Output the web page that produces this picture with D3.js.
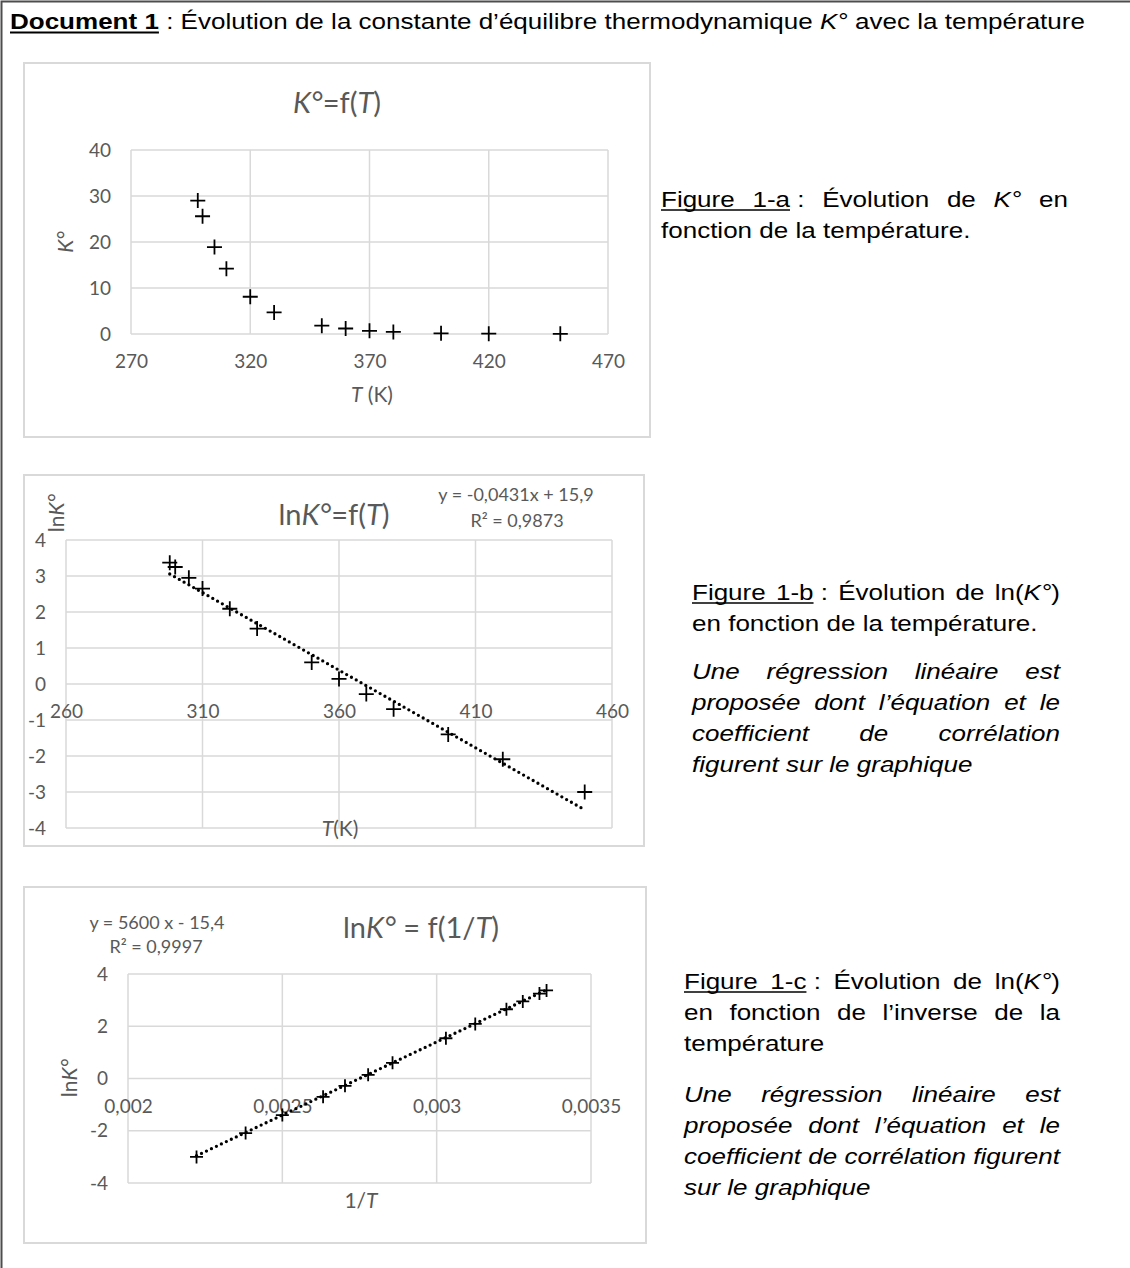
<!DOCTYPE html>
<html>
<head>
<meta charset="utf-8">
<script src="https://cdn.jsdelivr.net/npm/d3@7"></script>
<style>
  body { margin: 0; background: #fff; }
  svg { display: block; }
</style>
</head>
<body>
<div id="doc"></div>
<script>
// values
const T_K = [298, 300, 305, 310, 320, 330, 350, 360, 370, 380, 400, 420, 450];
const K_VALUES = [29.0, 25.6, 18.9, 14.2, 8.1, 4.7, 1.8, 1.2, 0.7, 0.45, 0.15, 0.08, 0.03];
const LN_K = [3.37, 3.25, 2.95, 2.65, 2.09, 1.54, 0.60, 0.14, -0.28, -0.70, -1.40, -2.09, -3.00];
const INV_T = [0.003356, 0.003333, 0.003279, 0.003226, 0.003125, 0.003030, 0.002857,
               0.002778, 0.002703, 0.002632, 0.002500, 0.002381, 0.002222];

// ticks
const K_X_TICKS = [270, 320, 370, 420, 470];
const K_Y_TICKS = [0, 10, 20, 30, 40];
const LN_X_TICKS = [260, 310, 360, 410, 460];
const LN_Y_TICKS = [-4, -3, -2, -1, 0, 1, 2, 3, 4];
const INV_X_TICKS = [0.002, 0.0025, 0.003, 0.0035];
const INV_Y_TICKS = [-4, -2, 0, 2, 4];

// trend lines as printed on the charts
const FIT_B = { slope: -0.0431, intercept: 15.9 };
const FIT_C = { slope: 5600, intercept: -15.4 };
const EQ_B = ["y = -0,0431x + 15,9", "R² = 0,9873"];
const EQ_C = ["y = 5600 x - 15,4", "R² = 0,9997"];

const W = 1130, H = 1268;
const BODY_FONT = "'Liberation Sans', Arial, sans-serif";
const BODY_SIZE = 22;
const SPACE = 0.278 * BODY_SIZE;
const CHART_FONT = "Lato, Calibri, sans-serif";
const GREY = "#595959", GRID = "#d9d9d9";

const fr = d3.formatLocale({ decimal: ",", thousands: "\u00a0", grouping: [3], currency: ["", " €"], minus: "-" });
const tickFmt = fr.format("~g");

const svg = d3.select("#doc").append("svg").attr("width", W).attr("height", H);
svg.append("rect").attr("width", W).attr("height", H).attr("fill", "#fff");
// document box (top and left edges visible)
svg.append("path").attr("d", "M1.5," + H + "V1.5H" + W)
  .attr("fill", "none").attr("stroke", "#4d4d4d").attr("stroke-width", 2);

// ---------- text helpers ----------
// *x* italic, _x_ underline, #x# bold underline
function parseWords(line, italic) {
  return line.split(" ").map(word => {
    const runs = [];
    word.split(/(\*[^*]+\*|_[^_]+_|#[^#]+#)/).filter(s => s).forEach(s => {
      if (s[0] === "*") runs.push({ t: s.slice(1, -1), i: true });
      else if (s[0] === "_") runs.push({ t: s.slice(1, -1), u: true, i: italic });
      else if (s[0] === "#") runs.push({ t: s.slice(1, -1), u: true, b: true });
      else runs.push({ t: s, i: italic });
    });
    return runs;
  });
}

function layoutLine(g, words, width, ulWidth) {
  const items = words.map(runs => {
    const t = g.append("text")
      .attr("font-family", BODY_FONT).attr("font-size", BODY_SIZE).attr("fill", "#000");
    const parts = runs.map(r => {
      const ts = t.append("tspan").text(r.t)
        .attr("font-style", r.i ? "italic" : null)
        .attr("font-weight", r.b ? "bold" : null);
      return { r: r, node: ts.node() };
    });
    return { t: t, parts: parts, w: t.node().getComputedTextLength() };
  });
  const sumW = d3.sum(items, d => d.w);
  const natural = sumW + SPACE * (items.length - 1);
  const gap = width ? (width - sumW) / (items.length - 1) : SPACE;
  let cx = 0, ul = null;
  const segs = [];
  items.forEach(it => {
    it.t.attr("x", cx);
    let px = cx;
    it.parts.forEach(p => {
      const w = p.node.getComputedTextLength();
      if (p.r.u) {
        if (ul) ul[1] = px + w;
        else { ul = [px, px + w]; segs.push(ul); }
      } else ul = null;
      px += w;
    });
    cx += it.w + gap;
  });
  segs.forEach(s => {
    g.append("line").attr("x1", s[0]).attr("x2", s[1])
      .attr("y1", ulWidth + 1.5).attr("y2", ulWidth + 1.5)
      .attr("stroke", "#000").attr("stroke-width", ulWidth);
  });
  return natural;
}

// header, its width fixes the horizontal stretch of the body text
const header = svg.append("g");
const headerW = layoutLine(header,
  parseWords("#Document# #1# : Évolution de la constante d’équilibre thermodynamique *K°* avec la température", false),
  null, 2);
const SX = 1075 / headerW;
header.attr("transform", `translate(10,29) scale(${SX},1)`);

const CAPTIONS = [
  { x: 661, w: 407, lines: [
    { y: 207, j: true, s: "_Figure_ _1-a_\u00a0: Évolution de *K°* en" },
    { y: 238, j: false, s: "fonction de la température." }
  ]},
  { x: 692, w: 368, lines: [
    { y: 600, j: true, s: "_Figure_ _1-b_\u00a0: Évolution de ln(*K°*)" },
    { y: 631, j: false, s: "en fonction de la température." },
    { y: 679, j: true, it: true, s: "Une régression linéaire est" },
    { y: 710, j: true, it: true, s: "proposée dont l’équation et le" },
    { y: 741, j: true, it: true, s: "coefficient de corrélation" },
    { y: 772, j: false, it: true, s: "figurent sur le graphique" }
  ]},
  { x: 684, w: 376, lines: [
    { y: 989, j: true, s: "_Figure_ _1-c_\u00a0: Évolution de ln(*K°*)" },
    { y: 1020, j: true, s: "en fonction de l’inverse de la" },
    { y: 1051, j: false, s: "température" },
    { y: 1102, j: true, it: true, s: "Une régression linéaire est" },
    { y: 1133, j: true, it: true, s: "proposée dont l’équation et le" },
    { y: 1164, j: true, it: true, s: "coefficient de corrélation figurent" },
    { y: 1195, j: false, it: true, s: "sur le graphique" }
  ]}
];

CAPTIONS.forEach(c => {
  c.lines.forEach(l => {
    const g = svg.append("g").attr("transform", `translate(${c.x},${l.y}) scale(${SX},1)`);
    layoutLine(g, parseWords(l.s, !!l.it), l.j ? c.w / SX : null, 1.5);
  });
});

// ---------- charts ----------
function rich(g, x, y, runs, size, rotate) {
  const t = g.append("text").attr("font-family", CHART_FONT).attr("font-size", size)
    .attr("fill", GREY).attr("text-anchor", "middle");
  if (rotate) t.attr("transform", `translate(${x},${y}) rotate(-90)`);
  else t.attr("x", x).attr("y", y);
  runs.forEach(r => t.append("tspan").text(r[0]).attr("font-style", r[1] === "i" ? "italic" : null));
}

function drawChart(c) {
  const g = svg.append("g");
  const f = c.frame;
  g.append("rect").attr("x", f[0]).attr("y", f[1]).attr("width", f[2] - f[0]).attr("height", f[3] - f[1])
    .attr("fill", "#fff").attr("stroke", GRID).attr("stroke-width", 2);

  const x = d3.scaleLinear().domain(c.xDomain).range(c.xRange);
  const y = d3.scaleLinear().domain(c.yDomain).range(c.yRange);

  g.selectAll(".vgrid").data(c.xTicks).join("line").attr("class", "vgrid")
    .attr("x1", d => x(d)).attr("x2", d => x(d))
    .attr("y1", c.yRange[0]).attr("y2", c.yRange[1])
    .attr("stroke", GRID).attr("stroke-width", 1.5);
  g.selectAll(".hgrid").data(c.yTicks).join("line").attr("class", "hgrid")
    .attr("y1", d => y(d)).attr("y2", d => y(d))
    .attr("x1", c.xRange[0]).attr("x2", c.xRange[1])
    .attr("stroke", GRID).attr("stroke-width", 1.5);

  const ax = g.append("g").attr("transform", `translate(0,${y(0)})`)
    .call(d3.axisBottom(x).tickValues(c.xTicks).tickSize(0).tickPadding(21).tickFormat(tickFmt));
  const ay = g.append("g").attr("transform", `translate(${c.xRange[0]},0)`)
    .call(d3.axisLeft(y).tickValues(c.yTicks).tickSize(0).tickPadding(20).tickFormat(tickFmt));
  [ax, ay].forEach(a => {
    a.select(".domain").remove();
    a.attr("font-family", CHART_FONT).attr("font-size", 19);
    a.selectAll("text").attr("fill", GREY);
  });

  if (c.fit) {
    const ends = d3.extent(c.xs).map(v => [v, c.fit.slope * v + c.fit.intercept]);
    g.append("path").datum(ends)
      .attr("d", d3.line().x(d => x(d[0])).y(d => y(d[1])))
      .attr("fill", "none").attr("stroke", "#000").attr("stroke-width", 3.3)
      .attr("stroke-linecap", "round").attr("stroke-dasharray", "0 5.5");
  }

  const m = c.marker;
  g.selectAll(".pt").data(c.xs.map((v, i) => [v, c.ys[i]])).join("path").attr("class", "pt")
    .attr("transform", d => `translate(${x(d[0])},${y(d[1])})`)
    .attr("d", `M${-m},0H${m}M0,${-m}V${m}`)
    .attr("stroke", "#000").attr("stroke-width", 1.8).attr("fill", "none");

  rich(g, c.title.x, c.title.y, c.title.runs, 29, false);
  rich(g, c.xTitle.x, c.xTitle.y, c.xTitle.runs, 21, false);
  rich(g, c.yTitle.x, c.yTitle.y, c.yTitle.runs, 21, true);
  if (c.eq) {
    c.eq.lines.forEach((s, i) => {
      g.append("text").attr("x", c.eq.pos[i][0]).attr("y", c.eq.pos[i][1])
        .attr("text-anchor", "middle").attr("font-family", CHART_FONT).attr("font-size", 18)
        .attr("fill", GREY).text(s);
    });
  }
}

drawChart({
  frame: [24, 63, 650, 437],
  xDomain: [270, 470], yDomain: [0, 40],
  xRange: [131, 608], yRange: [334, 150],
  xTicks: K_X_TICKS, yTicks: K_Y_TICKS,
  xs: T_K, ys: K_VALUES, marker: 7.5,
  title: { x: 337, y: 113, runs: [["K°", "i"], ["=f(", ""], ["T", "i"], [")", ""]] },
  xTitle: { x: 372, y: 402, runs: [["T", "i"], [" (K)", ""]] },
  yTitle: { x: 73, y: 242, runs: [["K°", "i"]] }
});

drawChart({
  frame: [24, 475, 644, 846],
  xDomain: [260, 460], yDomain: [-4, 4],
  xRange: [66, 612], yRange: [828, 540],
  xTicks: LN_X_TICKS, yTicks: LN_Y_TICKS,
  xs: T_K, ys: LN_K, marker: 7.5, fit: FIT_B,
  title: { x: 334, y: 525, runs: [["ln", ""], ["K°", "i"], ["=f(", ""], ["T", "i"], [")", ""]] },
  xTitle: { x: 340, y: 836, runs: [["T", "i"], ["(K)", ""]] },
  yTitle: { x: 64, y: 513, runs: [["ln", ""], ["K°", "i"]] },
  eq: { lines: EQ_B, pos: [[516, 501], [517, 527]] }
});

drawChart({
  frame: [24, 887, 646, 1243],
  xDomain: [0.002, 0.0035], yDomain: [-4, 4],
  xRange: [128, 591], yRange: [1183, 974],
  xTicks: INV_X_TICKS, yTicks: INV_Y_TICKS,
  xs: INV_T, ys: LN_K, marker: 6.5, fit: FIT_C,
  title: { x: 421, y: 938, runs: [["ln", ""], ["K°", "i"], [" = f(1/", ""], ["T", "i"], [")", ""]] },
  xTitle: { x: 361, y: 1208, runs: [["1/", ""], ["T", "i"]] },
  yTitle: { x: 77, y: 1078, runs: [["ln", ""], ["K°", "i"]] },
  eq: { lines: EQ_C, pos: [[157, 929], [156, 953]] }
});
</script>
</body>
</html>
